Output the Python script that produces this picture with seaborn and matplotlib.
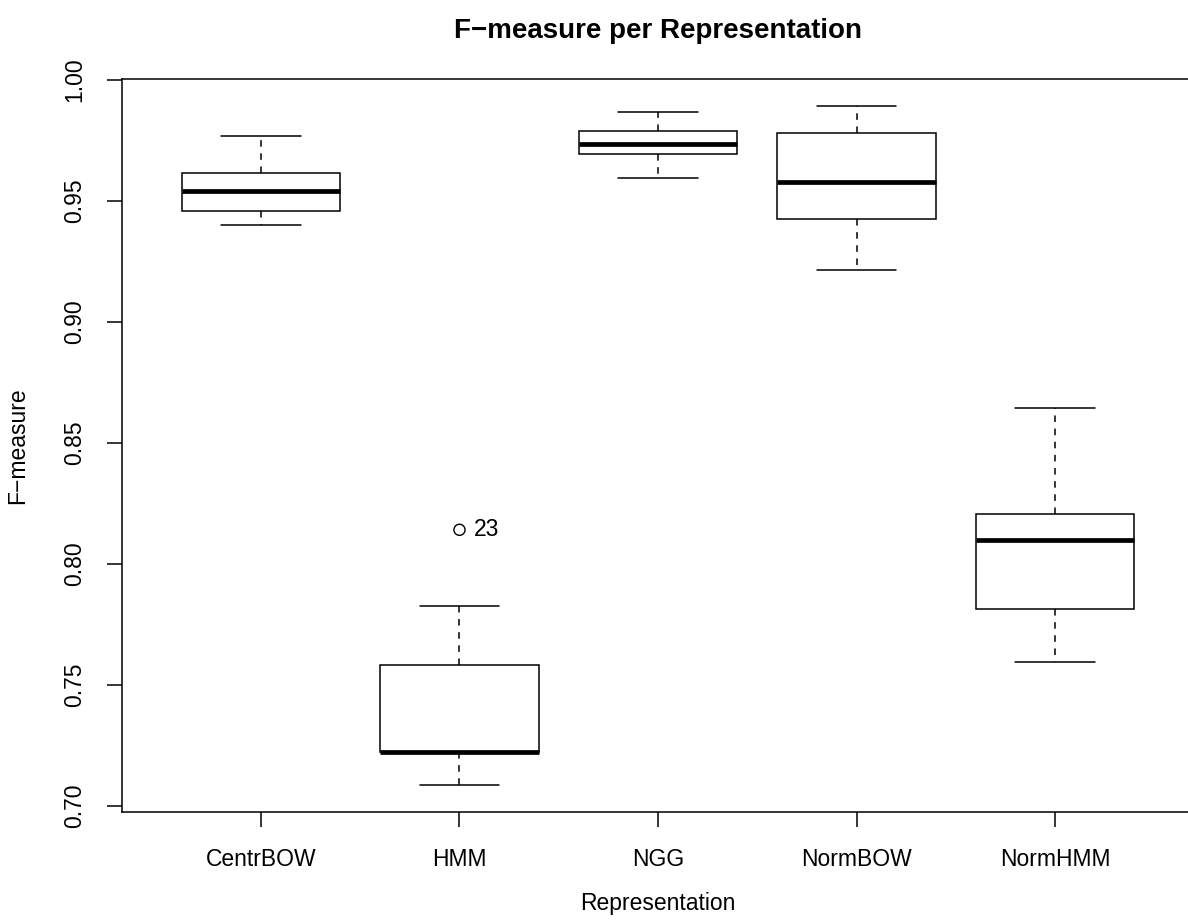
import pandas as pd
import matplotlib
matplotlib.use('Agg')
import matplotlib.pyplot as plt
import seaborn as sns

# five-number summaries (R-style boxplot)
representations = ['CentrBOW', 'HMM', 'NGG', 'NormBOW', 'NormHMM']
whisker_low = [0.9398, 0.7087, 0.9594, 0.9215, 0.7594]
quartile_1 = [0.9459, 0.7223, 0.9694, 0.9426, 0.7814]
medians = [0.9539, 0.7223, 0.9733, 0.9577, 0.8098]
quartile_3 = [0.9614, 0.7581, 0.9789, 0.9781, 0.8207]
whisker_high = [0.9769, 0.7824, 0.9866, 0.9891, 0.8642]

outlier_group = ['HMM']
outlier_value = [0.8140]
outlier_label = ['23']

y_ticks = [0.70, 0.75, 0.80, 0.85, 0.90, 0.95, 1.00]


def build_frame():
    rows = []
    for i, rep in enumerate(representations):
        for v in (whisker_low[i], quartile_1[i], medians[i], quartile_3[i], whisker_high[i]):
            rows.append({'Representation': rep, 'F-measure': v})
    return pd.DataFrame(rows)


def make_plot(output='out.png'):
    df = build_frame()

    sns.set_theme(style='ticks', rc={'text.color': 'black',
                                     'axes.labelcolor': 'black',
                                     'xtick.color': 'black',
                                     'ytick.color': 'black'})
    plt.rcParams['font.family'] = ['Liberation Sans', 'DejaVu Sans']
    plt.rcParams['axes.unicode_minus'] = True

    fig = plt.figure(figsize=(11.88, 9.24), dpi=100)
    W, H = 1188, 924
    ax = fig.add_axes([122 / W, (H - 811.7) / H, 1072 / W, 732.7 / H])

    sns.boxplot(data=df, x='Representation', y='F-measure', order=representations,
                width=0.8, color='white', linecolor='black', linewidth=1.1,
                whis=(0, 100), showfliers=False, saturation=1,
                whiskerprops=dict(linestyle=(0, (4.3, 4.3))),
                medianprops=dict(linewidth=3.4),
                ax=ax)

    # outlier and its label
    xs = [representations.index(g) for g in outlier_group]
    ax.scatter(xs, outlier_value, s=64, facecolors='none', edgecolors='black',
               linewidths=1.0, zorder=5)
    for x, y, lab in zip(xs, outlier_value, outlier_label):
        ax.annotate(lab, (x, y), xytext=(10.5, 0), textcoords='offset points',
                    ha='left', va='center', fontsize=16.5, color='black')

    ax.set_xlim(-0.7, 4.7)
    ax.set_ylim(0.6975, 1.0003)
    ax.set_yticks(y_ticks)
    ax.set_yticklabels([f'{t:.2f}' for t in y_ticks], rotation=90, va='center')

    for side in ['left', 'bottom', 'top', 'right']:
        ax.spines[side].set_visible(True)
        ax.spines[side].set_color('black')
        ax.spines[side].set_linewidth(1.1)
    ax.tick_params(axis='both', direction='out', length=10.8, width=1.1,
                   color='black', labelsize=16.5, labelcolor='black')
    ax.tick_params(axis='x', pad=15.5)
    ax.tick_params(axis='y', pad=15)

    ax.set_title('F\u2212measure per Representation', fontsize=20,
                 fontweight='bold', pad=29.5, color='black')
    ax.set_xlabel('Representation', fontsize=16.5, color='black')
    ax.set_ylabel('F\u2212measure', fontsize=16.5, color='black')
    ax.xaxis.set_label_coords(0.5, -0.1255)
    ax.xaxis.label.set_verticalalignment('center')
    ax.yaxis.set_label_coords(-0.097, 0.5)
    ax.yaxis.label.set_verticalalignment('center')

    fig.savefig(output, dpi=100)
    plt.close(fig)


if __name__ == "__main__":
    make_plot()
